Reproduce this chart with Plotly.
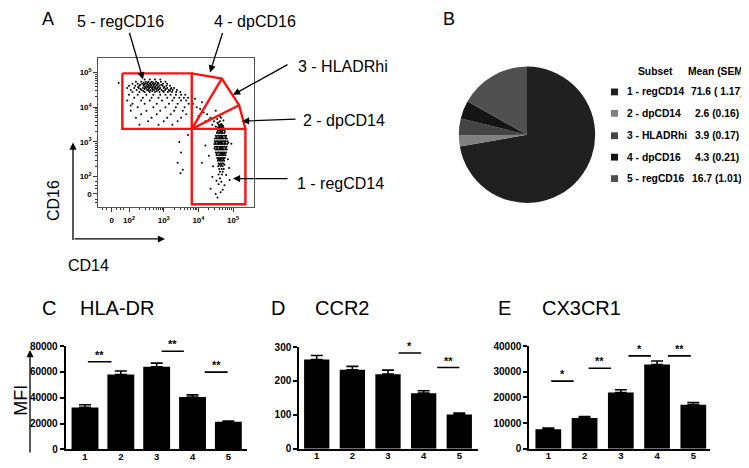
import plotly.graph_objects as go
import numpy as np

# The page body keeps its default 8px margin, so the figure is drawn 8px in from the window's
# top-left corner; positions below are given in window pixels and converted with that offset.
OX, OY = 8, 8
W, H = 749 - OX, 468 - OY
def PX(x): return (x - OX) / W
def PY(y): return 1 - (y - OY) / H

# ---------------- Panel A : flow cytometry dot plot (display units: 10^k -> k, "0" -> 1.5)
cd14_rows_y = [3.50, 3.42, 3.34, 3.26, 3.18, 3.10, 3.02, 2.94, 2.86, 2.78, 2.70, 2.62, 2.54, 2.46, 2.38, 2.30, 2.22, 2.14, 2.06,
               3.46, 3.30, 3.14, 2.98, 2.82, 2.66, 2.50, 2.34]
cd14_rows_x = [
    [4.58, 4.63, 4.68],
    [4.55, 4.60, 4.64, 4.69, 4.72],
    [4.57, 4.61, 4.65, 4.70, 4.74],
    [4.53, 4.58, 4.62, 4.66, 4.70, 4.75],
    [4.50, 4.55, 4.59, 4.63, 4.67, 4.71, 4.76, 4.80],
    [4.48, 4.53, 4.57, 4.61, 4.65, 4.69, 4.73, 4.78, 4.82],
    [4.47, 4.51, 4.55, 4.59, 4.63, 4.67, 4.71, 4.75, 4.79, 4.84],
    [4.46, 4.50, 4.54, 4.58, 4.62, 4.66, 4.70, 4.74, 4.78, 4.83],
    [4.48, 4.52, 4.56, 4.60, 4.64, 4.68, 4.72, 4.76, 4.81],
    [4.49, 4.53, 4.57, 4.61, 4.65, 4.69, 4.73, 4.77, 4.82],
    [4.50, 4.55, 4.59, 4.63, 4.67, 4.71, 4.75, 4.80],
    [4.52, 4.57, 4.61, 4.65, 4.69, 4.73, 4.78],
    [4.54, 4.59, 4.63, 4.67, 4.71, 4.76],
    [4.56, 4.61, 4.65, 4.69, 4.74],
    [4.58, 4.63, 4.68, 4.72],
    [4.57, 4.64, 4.70],
    [4.60, 4.67, 4.73],
    [4.62, 4.70],
    [4.58, 4.68],
    [4.61, 4.66, 4.71],
    [4.55, 4.63, 4.68, 4.77],
    [4.52, 4.60, 4.65, 4.69, 4.78],
    [4.49, 4.57, 4.61, 4.65, 4.69, 4.77, 4.86],
    [4.46, 4.54, 4.62, 4.66, 4.70, 4.79],
    [4.53, 4.63, 4.67, 4.71, 4.76],
    [4.57, 4.62, 4.66, 4.72],
    [4.60, 4.66, 4.75],
]
cd16_rows_y = [4.80, 4.74, 4.68, 4.62, 4.56, 4.50, 4.44, 4.36, 4.28, 4.20, 4.10, 4.00, 3.90, 3.80, 3.70, 3.60, 3.50,
               4.71, 4.65, 4.59, 4.53, 4.47]
cd16_rows_x = [
    [2.45, 2.60, 2.75, 2.90],
    [2.20, 2.35, 2.48, 2.56, 2.66, 2.78, 2.92, 3.05],
    [2.10, 2.25, 2.38, 2.46, 2.52, 2.60, 2.68, 2.76, 2.85, 2.98, 3.10],
    [2.00, 2.18, 2.30, 2.42, 2.50, 2.57, 2.64, 2.71, 2.79, 2.88, 2.97, 3.08, 3.18],
    [1.95, 2.15, 2.28, 2.40, 2.49, 2.58, 2.66, 2.74, 2.82, 2.90, 3.00, 3.10, 3.22, 3.30],
    [2.05, 2.22, 2.36, 2.52, 2.62, 2.72, 2.84, 2.94, 3.04, 3.14, 3.26, 3.38],
    [2.10, 2.30, 2.45, 2.60, 2.75, 2.88, 3.00, 3.12, 3.24, 3.36, 3.48],
    [2.00, 2.25, 2.50, 2.70, 2.90, 3.05, 3.20, 3.35, 3.50, 3.62],
    [2.15, 2.40, 2.65, 2.85, 3.10, 3.30, 3.45, 3.58, 3.70],
    [1.95, 2.35, 2.60, 2.95, 3.25, 3.50, 3.65],
    [2.10, 2.45, 2.80, 3.15, 3.40, 3.72],
    [2.25, 2.70, 3.05, 3.35, 3.60],
    [2.05, 2.50, 2.90, 3.30, 3.55],
    [2.35, 2.80, 3.20, 3.65],
    [2.20, 2.65, 3.10, 3.50],
    [2.55, 3.00, 3.40],
    [2.30, 2.85, 3.25],
    [2.42, 2.53, 2.62, 2.71, 2.83],
    [2.32, 2.43, 2.55, 2.63, 2.72, 2.81, 2.93],
    [2.26, 2.46, 2.54, 2.61, 2.69, 2.76, 2.84, 3.02],
    [2.33, 2.45, 2.56, 2.68, 2.78, 2.88, 3.06, 3.20],
    [2.41, 2.57, 2.67, 2.80, 2.98, 3.18],
]
trail_x = [3.85, 3.95, 4.05, 4.15, 4.25, 4.35, 4.45, 4.55, 3.90, 4.10, 4.30, 4.50, 4.00, 4.20, 4.40, 4.60, 4.62, 4.70,
           4.50, 4.65, 4.58, 4.66, 4.72, 4.54, 4.62, 4.68]
trail_y = [4.10, 4.00, 3.95, 3.85, 3.80, 3.70, 3.60, 3.55, 4.25, 4.15, 3.65, 3.45, 3.75, 3.60, 3.50, 3.45, 3.60, 3.42,
           3.90, 3.70, 3.56, 3.52, 3.62, 3.66, 3.74, 3.46]
sparse_x = [3.45, 3.50, 3.40, 3.55, 3.48, 4.30, 4.40, 4.85, 4.90, 4.20, 4.50, 4.55, 4.75, 4.80, 1.70, 2.05, 3.70, 4.10,
            4.95, 4.35, 4.62, 4.66, 4.58, 4.70, 4.64, 4.52, 4.88, 4.42]
sparse_y = [3.00, 2.70, 2.40, 2.20, 2.10, 2.60, 2.00, 2.50, 1.90, 2.90, 1.50, 1.40, 1.75, 2.05, 4.70, 4.05, 3.20, 2.40,
            2.95, 1.65, 1.95, 1.85, 1.78, 1.62, 1.55, 1.88, 2.25, 2.30]

gate_x = [1.807, 3.808, 3.808, 1.807, 1.807, None,
          3.808, 5.354, 5.354, 3.808, 3.808, None,
          3.808, 4.674, 5.173, 5.354, None,
          3.808, 4.674, None, 3.808, 5.173]
gate_y = [4.98, 4.98, 3.378, 3.378, 4.98, None,
          3.378, 3.378, 1.204, 1.204, 3.378, None,
          4.98, 4.831, 4.061, 3.378, None,
          3.378, 4.831, None, 3.378, 4.061]

axisA_vals = [1.5, 2, 3, 4, 5]
axisA_text = ["0", "10<sup>2</sup>", "10<sup>3</sup>", "10<sup>4</sup>", "10<sup>5</sup>"]

# ---------------- Panel B : pie
subsets = ["1 - regCD14", "2 - dpCD14", "3 - HLADRhi", "4 - dpCD16", "5 - regCD16"]
means = [71.6, 2.6, 3.9, 4.3, 16.7]
sems = ["( 1.17)", "(0.16)", "(0.17)", "(0.21)", "(1.01)"]
pie_colors = ["#202020", "#808080", "#444444", "#151515", "#505050"]

# ---------------- Panels C, D, E : bars
groups = [1, 2, 3, 4, 5]
hla_mean = [32500, 58000, 64000, 40500, 21300]
hla_sem = [2000, 2700, 2800, 1700, 600]
ccr2_mean = [263, 233, 220, 164, 101]
ccr2_sem = [12, 10, 12, 7, 4]
cx3_mean = [7600, 12000, 21900, 32800, 17100]
cx3_sem = [400, 550, 1100, 1400, 850]
hla_sig = [(1.08, 1.74, 67900, "**"), (3.14, 3.76, 76000, "**"), (4.34, 4.98, 59850, "**")]
ccr2_sig = [(3.30, 3.93, 282.7, "*"), (4.38, 5.00, 239.6, "**")]
cx3_sig = [(1.08, 1.70, 26330, "*"), (2.11, 2.73, 31380, "**"), (3.21, 3.83, 36200, "*"), (4.30, 4.93, 36200, "**")]
hla_ticks = [0, 20000, 40000, 60000, 80000]
ccr2_ticks = [0, 100, 200, 300]
cx3_ticks = [0, 10000, 20000, 30000, 40000]

FONT = "Liberation Sans, Arial, sans-serif"
fig = go.Figure()

cells_x = [x for row in cd14_rows_x for x in row] + [x for row in cd16_rows_x for x in row] + trail_x + sparse_x
cells_y = ([y for y, row in zip(cd14_rows_y, cd14_rows_x) for _ in row] +
           [y for y, row in zip(cd16_rows_y, cd16_rows_x) for _ in row] + trail_y + sparse_y)

fig.add_trace(go.Scatter(x=cells_x, y=cells_y, mode="markers", marker=dict(size=2, color="black", line=dict(width=0)),
                         xaxis="x", yaxis="y", showlegend=False, hoverinfo="skip"))
fig.add_trace(go.Scatter(x=gate_x, y=gate_y, mode="lines", line=dict(color="#ff1010", width=2.4),
                         xaxis="x", yaxis="y", showlegend=False, hoverinfo="skip"))

fig.add_trace(go.Pie(values=means, labels=subsets, sort=False, direction="clockwise", rotation=0,
                     marker=dict(colors=pie_colors, line=dict(width=0)), textinfo="none",
                     domain=dict(x=[PX(457), PX(597)], y=[PY(202), PY(62)]), showlegend=False, hoverinfo="skip"))

bar_specs = [
    ("x2", "y2", hla_mean, hla_sem, hla_sig, 0.75),
    ("x3", "y3", ccr2_mean, ccr2_sem, ccr2_sig, 0.71),
    ("x4", "y4", cx3_mean, cx3_sem, cx3_sig, 0.71),
]
ann = []
for xa, ya, m, s, sig, bw in bar_specs:
    fig.add_trace(go.Bar(x=groups, y=m, width=bw, marker=dict(color="black", line=dict(width=0)),
                         error_y=dict(type="data", array=s, arrayminus=[0] * len(s), symmetric=False,
                                      color="black", thickness=1.6, width=6),
                         xaxis=xa, yaxis=ya, showlegend=False, hoverinfo="skip"))
    for x0, x1, yv, lab in sig:
        fig.add_trace(go.Scatter(x=[x0, x1], y=[yv, yv], mode="lines", line=dict(color="black", width=1.6),
                                 xaxis=xa, yaxis=ya, showlegend=False, hoverinfo="skip"))
        ann.append(dict(x=(x0 + x1) / 2, y=yv, xref=xa, yref=ya, text=lab, showarrow=False,
                        yanchor="bottom", yshift=-1, font=dict(size=11, family=FONT, color="black", weight="bold")))

layout = dict(width=W, height=H, margin=dict(l=0, r=0, t=0, b=0), paper_bgcolor="white",
              plot_bgcolor="rgba(0,0,0,0)", font=dict(family=FONT, color="black"))

minorA = [float(np.log10(k * 10 ** n)) for n in range(2, 5) for k in range(2, 10)] + [1.25, 1.35, 1.65, 1.75, 1.85]
layout["xaxis"] = dict(domain=[PX(98.3), PX(254.3)], range=[1.115, 5.61], anchor="y", showline=True, mirror=True,
                       linecolor="#555555", linewidth=1, ticks="outside", ticklen=4, tickcolor="#333",
                       tickvals=axisA_vals, ticktext=axisA_text, ticklabelstandoff=2,
                       tickfont=dict(size=8, weight="bold"), showgrid=False, zeroline=False,
                       minor=dict(tickmode="array", tickvals=minorA, ticks="outside", ticklen=2, tickcolor="#333"))
layout["yaxis"] = dict(domain=[PY(205.7), PY(53.3)], range=[1.137, 5.42], anchor="x", showline=True, mirror=True,
                       linecolor="#555555", linewidth=1, ticks="outside", ticklen=4, tickcolor="#333",
                       tickvals=axisA_vals, ticktext=axisA_text,
                       tickfont=dict(size=8, weight="bold"), showgrid=False, zeroline=False,
                       minor=dict(tickmode="array", tickvals=minorA, ticks="outside", ticklen=2, tickcolor="#333"))

bar_axes = [
    ("xaxis2", "yaxis2", "x2", "y2", [65.7, 247], [0.462, 5.52], [455, 349], hla_ticks),
    ("xaxis3", "yaxis3", "x3", "y3", [299.3, 477.7], [0.511, 5.517], [454.3, 350], ccr2_ticks),
    ("xaxis4", "yaxis4", "x4", "y4", [529.3, 710], [0.476, 5.46], [454.3, 349], cx3_ticks),
]
for xk, yk, xa, ya, dx, rx, dy, tv in bar_axes:
    layout[xk] = dict(domain=[PX(dx[0]), PX(dx[1])], range=rx, anchor=ya, showline=True, linecolor="black",
                      linewidth=2, ticks="", tickvals=groups, ticktext=[str(g) for g in groups],
                      tickfont=dict(size=9.5, weight="bold"), showgrid=False, zeroline=False, ticklabelstandoff=-3)
    layout[yk] = dict(domain=[PY(dy[0]), PY(dy[1])], range=[0, tv[-1]], anchor=xa, showline=True,
                      linecolor="black", linewidth=2, ticks="outside", ticklen=4, tickwidth=1.5, tickcolor="black",
                      tickvals=tv, ticktext=[str(t) for t in tv], tickfont=dict(size=10, weight="bold"),
                      showgrid=False, zeroline=False)

def txt(x, y, s, size, xanchor="center", yanchor="middle", angle=0, weight="normal", family=FONT):
    ann.append(dict(x=PX(x), y=PY(y), xref="paper", yref="paper", text=s, showarrow=False, xanchor=xanchor,
                    yanchor=yanchor, textangle=angle, font=dict(size=size, family=family, color="black", weight=weight)))

def arrow(hx, hy, tx, ty, w=1.3):
    ann.append(dict(x=PX(hx), y=PY(hy), xref="paper", yref="paper", ax=tx - hx, ay=ty - hy, axref="pixel",
                    ayref="pixel", text="", showarrow=True, arrowhead=2, arrowsize=1.1, arrowwidth=w,
                    arrowcolor="black", standoff=0, startstandoff=0))

# Panel A labels
txt(48, 13, "A", 18)
txt(120, 16, "5 - regCD16", 16)
txt(255, 16, "4 - dpCD16", 16)
txt(296, 62, "3 - HLADRhi", 16, xanchor="left")
txt(301, 117, "2 - dpCD14", 16, xanchor="left")
txt(295, 182, "1 - regCD14", 16, xanchor="left")
arrow(143, 75, 129, 27)
arrow(210, 68, 223, 27)
arrow(233, 91, 289, 60)
arrow(242, 118, 297, 116)
arrow(233, 177, 289, 177)
arrow(73, 140, 73, 239)
arrow(165, 239, 73, 239)
txt(54, 200, "CD16", 16, angle=-90)
txt(88, 266, "CD14", 16)

# Panel B labels / legend
txt(449, 13, "B", 18)
LS = 10.3
VX = 717
txt(655, 67, "Subset", LS, weight="bold")
txt(VX, 67, "Mean (SEM)", LS, weight="bold")
shapes = []
row_y = [88, 110, 133, 155, 177]
for i, (lab, mv, sv, col) in enumerate(zip(subsets, means, sems, pie_colors)):
    yy = row_y[i]
    shapes.append(dict(type="rect", xref="paper", yref="paper", x0=PX(611), x1=PX(618), y0=PY(yy + 3.5),
                       y1=PY(yy - 3.5), fillcolor=col, line=dict(width=0)))
    txt(625, yy, lab, LS, xanchor="left", weight="bold")
    txt(VX, yy, f"{mv} {sv}", LS, weight="bold")

# Bar panel titles
txt(49, 310, "C", 20)
txt(78, 310, "HLA-DR", 20, xanchor="left")
txt(278, 310, "D", 20)
txt(313, 310, "CCR2", 20, xanchor="left")
txt(504, 310, "E", 20)
txt(540, 310, "CX3CR1", 20, xanchor="left")
txt(21, 405, "MFI", 18, angle=-90)
arrow(30, 353, 30, 457)

layout["annotations"] = ann
layout["shapes"] = shapes
fig.update_layout(**layout)
fig.write_html("out.html")
